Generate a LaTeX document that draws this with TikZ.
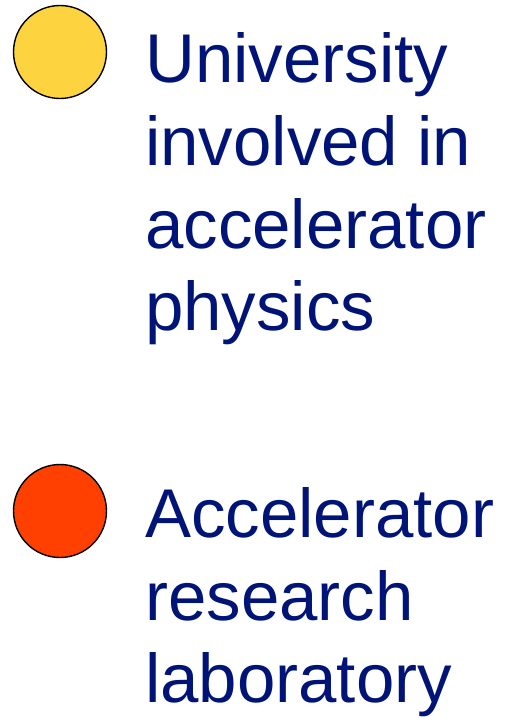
\documentclass[tikz,border=0pt]{standalone}
\usepackage{fontspec}
\setmainfont{Liberation Sans}
\definecolor{legnavy}{RGB}{0,20,120}
\definecolor{unigold}{RGB}{253,211,63}
\definecolor{labred}{RGB}{255,64,0}
\tikzset{
  dot/.style={circle,draw=black,line width=1.4pt,minimum size=93pt,inner sep=0pt},
  lbl/.style={anchor=base west,inner sep=0pt,text=legnavy,font=\fontsize{69}{83}\selectfont}
}
\begin{document}
\begin{tikzpicture}[x=1pt,y=-1pt]
\useasboundingbox (0,0) rectangle (504,718);
% legend markers
\node[dot,fill=unigold] (uni) at (60,52) {};
\node[dot,fill=labred] (lab) at (60,511) {};
% legend texts
\foreach \y/\lab [count=\i] in {82/University,165/involved in,248/accelerator,330/physics}{
  \node[lbl] (unitext\i) at (145,\y) {\lab};
}
\foreach \y/\lab [count=\i] in {537/Accelerator,620/research,702/laboratory}{
  \node[lbl] (labtext\i) at (145,\y) {\lab};
}
\end{tikzpicture}
\end{document}
